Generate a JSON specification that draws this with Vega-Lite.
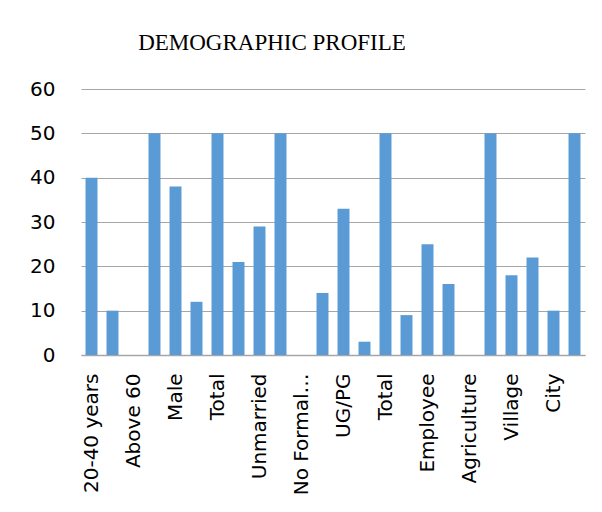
{
  "$schema": "https://vega.github.io/schema/vega-lite/v6.json",
  "autosize": "none",
  "padding": {"left": 81, "top": 89, "right": 17, "bottom": 157},
  "width": 504,
  "height": 266,
  "background": "white",
  "title": {
    "text": "DEMOGRAPHIC PROFILE",
    "font": "Liberation Serif",
    "fontSize": 23,
    "fontWeight": "normal",
    "color": "black",
    "anchor": "middle",
    "frame": "group",
    "baseline": "alphabetic",
    "offset": 39,
    "dx": -61,
    "dy": 33
  },
  "data": {
    "values": [
      {"category": "20-40 years", "value": 40},
      {"category": "41-60 years", "value": 10},
      {"category": "Above 60", "value": 0},
      {"category": "    Total", "value": 50},
      {"category": "Male", "value": 38},
      {"category": "Female", "value": 12},
      {"category": "Total", "value": 50},
      {"category": "Married", "value": 21},
      {"category": "Unmarried", "value": 29},
      {"category": "  Total", "value": 50},
      {"category": "No Formal Education", "value": 0},
      {"category": "School", "value": 14},
      {"category": "UG/PG", "value": 33},
      {"category": "Others", "value": 3},
      {"category": " Total", "value": 50},
      {"category": "Student", "value": 9},
      {"category": "Employee", "value": 25},
      {"category": "Business", "value": 16},
      {"category": "Agriculture", "value": 0},
      {"category": "   Total", "value": 50},
      {"category": "Village", "value": 18},
      {"category": "Town", "value": 22},
      {"category": "City", "value": 10},
      {"category": "      Total", "value": 50}
    ]
  },
  "mark": {"type": "bar", "color": "#5B9BD5"},
  "encoding": {
    "x": {
      "field": "category",
      "type": "nominal",
      "sort": null,
      "scale": {"paddingInner": 0.43, "paddingOuter": 0.215},
      "axis": {
        "title": null,
        "values": ["20-40 years", "Above 60", "Male", "Total", "Unmarried", "No Formal Education", "UG/PG", " Total", "Employee", "Agriculture", "Village", "City"],
        "labelAngle": -90,
        "labelAlign": "right",
        "labelBaseline": "middle",
        "labelFont": "DejaVu Sans",
        "labelFontSize": 20,
        "labelColor": "black",
        "labelLimit": 126,
        "labelPadding": 18,
        "ticks": false,
        "tickSize": 0,
        "domain": true,
        "domainColor": "#a6a6a6",
        "domainWidth": 1.5,
        "grid": false
      }
    },
    "y": {
      "field": "value",
      "type": "quantitative",
      "scale": {"domain": [0, 60], "nice": false},
      "axis": {
        "title": null,
        "values": [0, 10, 20, 30, 40, 50, 60],
        "labelFont": "DejaVu Sans",
        "labelFontSize": 20,
        "labelColor": "black",
        "labelPadding": 26,
        "ticks": false,
        "tickSize": 0,
        "domain": false,
        "grid": true,
        "gridColor": "#a6a6a6",
        "gridWidth": 1.2
      }
    }
  },
  "config": {"view": {"stroke": null}}
}
